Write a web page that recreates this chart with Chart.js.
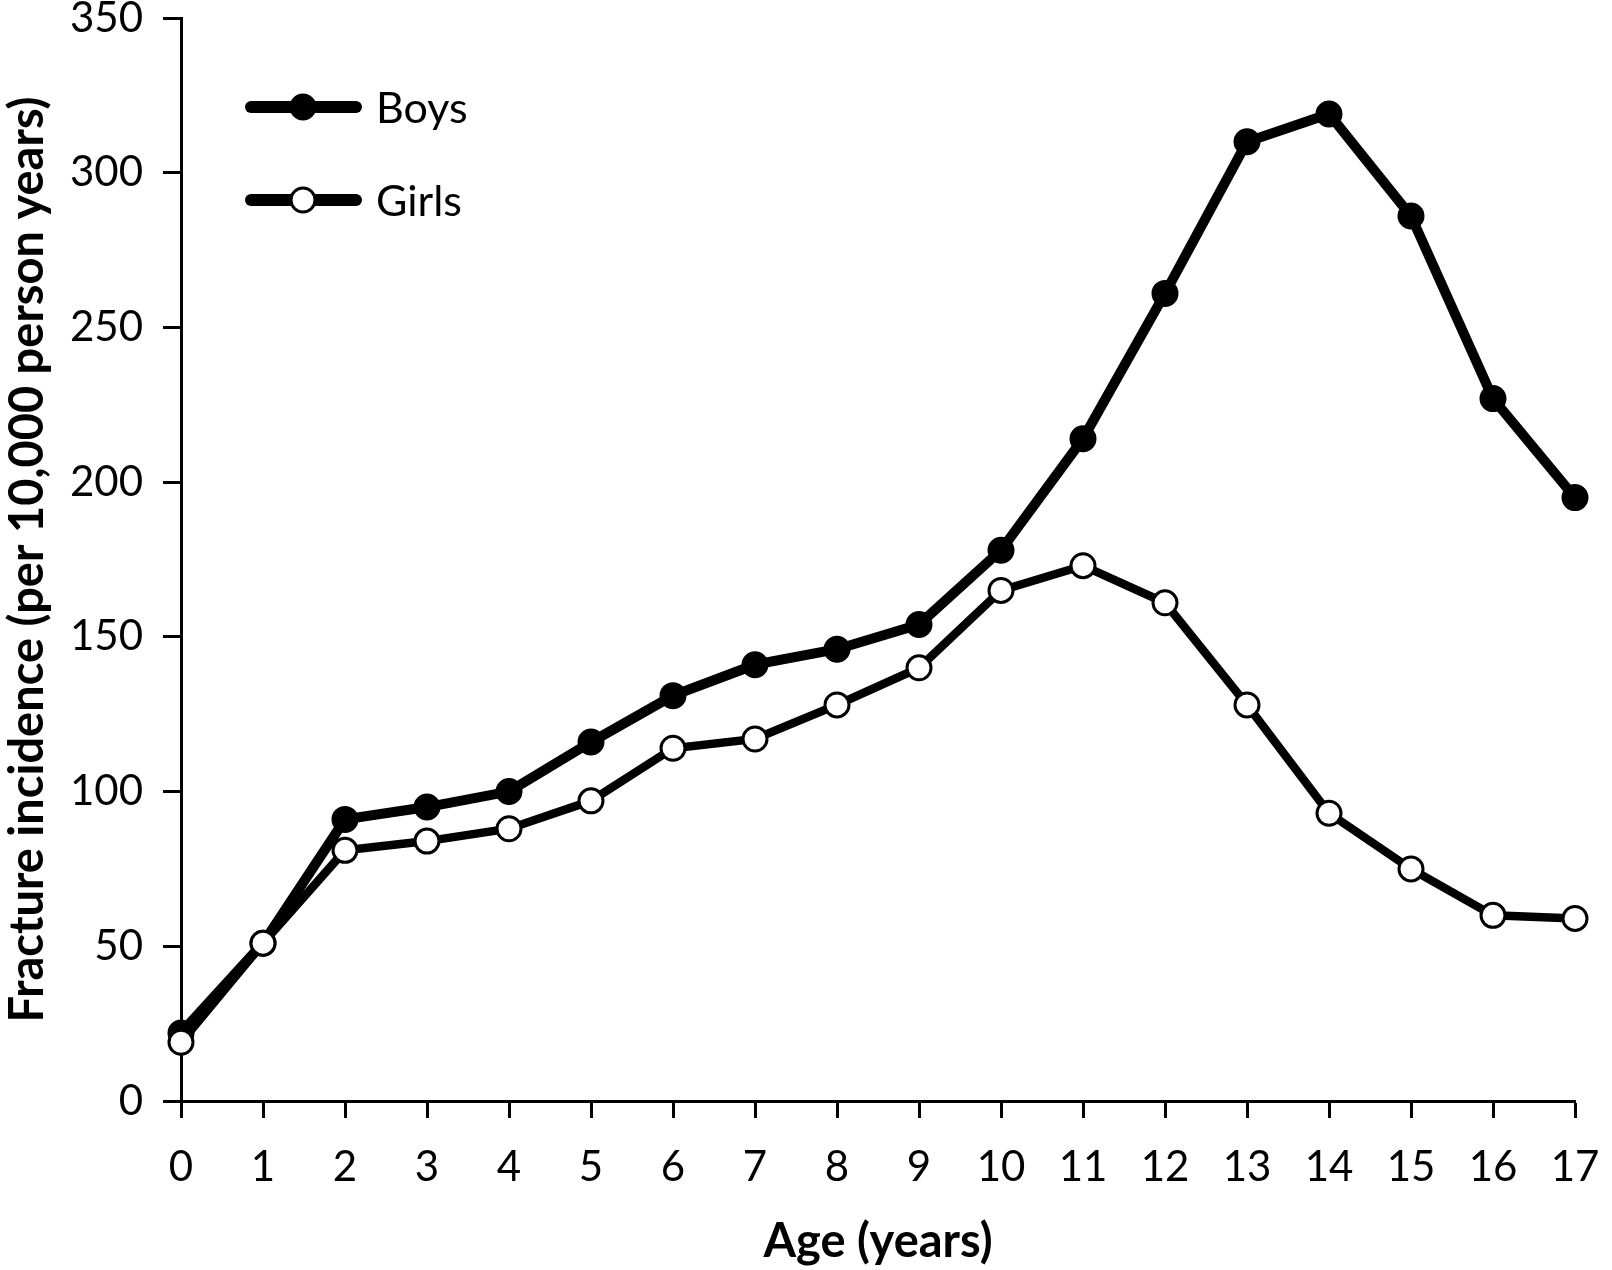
<!DOCTYPE html>
<html>
<head>
<meta charset="utf-8">
<script src="https://cdn.jsdelivr.net/npm/chart.js@4"></script>
<style>
  html, body { margin: 0; padding: 0; background: #fff; }
  #wrap { width: 1612px; height: 1270px; position: relative; }
</style>
</head>
<body>
<div id="wrap"><canvas id="fractureChart"></canvas></div>
<script>
// data
const ages = ["0", "1", "2", "3", "4", "5", "6", "7", "8", "9", "10", "11", "12", "13", "14", "15", "16", "17"];
const boys = [22, 51, 91, 95, 100, 116, 131, 141, 146, 154, 178, 214, 261, 310, 319, 286, 227, 195];
const girls = [19, 51, 81, 84, 88, 97, 114, 117, 128, 140, 165, 173, 161, 128, 93, 75, 60, 59];
const yTicks = [0, 50, 100, 150, 200, 250, 300, 350];

const FONT = "Lato, 'Open Sans', sans-serif";

// legend drawn inside the plot, top-left
const insideLegend = {
  id: "insideLegend",
  afterDraw(chart) {
    const ctx = chart.ctx;
    const rows = [107, 200];
    ctx.save();
    chart.data.datasets.forEach((ds, i) => {
      const y = rows[i];
      ctx.strokeStyle = "#000";
      ctx.lineWidth = 12;
      ctx.lineCap = "round";
      ctx.beginPath();
      ctx.moveTo(251, y);
      ctx.lineTo(356, y);
      ctx.stroke();

      ctx.beginPath();
      ctx.arc(303, y, 12, 0, Math.PI * 2);
      ctx.fillStyle = ds.pointBackgroundColor;
      ctx.fill();
      ctx.lineWidth = 3;
      ctx.stroke();

      ctx.fillStyle = "#000";
      ctx.font = "43px " + FONT;
      ctx.textBaseline = "middle";
      ctx.textAlign = "left";
      ctx.fillText(ds.label, 376, y + 2);
    });
    ctx.restore();
  },
};

new Chart(document.getElementById("fractureChart"), {
  type: "line",
  data: {
    labels: ages,
    datasets: [
      {
        label: "Boys",
        data: boys,
        order: 2,
        borderColor: "#000",
        borderWidth: 10,
        pointRadius: 12,
        pointBorderWidth: 3,
        pointBackgroundColor: "#000",
        pointBorderColor: "#000",
        tension: 0,
      },
      {
        label: "Girls",
        data: girls,
        order: 1,
        borderColor: "#000",
        borderWidth: 8.5,
        pointRadius: 12,
        pointBorderWidth: 3,
        pointBackgroundColor: "#fff",
        pointBorderColor: "#000",
        tension: 0,
      },
    ],
  },
  options: {
    responsive: true,
    maintainAspectRatio: false,
    devicePixelRatio: 1,
    animation: false,
    layout: { autoPadding: false, padding: { top: 18, right: 37, left: 0, bottom: 0 } },
    plugins: {
      legend: { display: false },
      tooltip: { enabled: false },
    },
    scales: {
      x: {
        offset: false,
        grid: { drawOnChartArea: false, drawTicks: true, tickLength: 17, tickWidth: 3, tickColor: "#000" },
        border: { display: true, color: "#000", width: 3 },
        ticks: { color: "#000", padding: 24, font: { family: FONT, size: 42 }, maxRotation: 0, autoSkip: false },
        title: {
          display: true,
          text: "Age (years)",
          color: "#000",
          font: { family: FONT, size: 47, weight: "bold" },
          padding: { top: 0, bottom: 0 },
        },
        afterFit(scale) {
          scale.height = 169;
          scale.paddingLeft = 0;
          scale.paddingRight = 0;
        },
      },
      y: {
        min: 0,
        max: 350,
        afterBuildTicks(scale) { scale.ticks = yTicks.map(v => ({ value: v })); },
        grid: { drawOnChartArea: false, drawTicks: true, tickLength: 18, tickWidth: 3, tickColor: "#000" },
        border: { display: true, color: "#000", width: 3 },
        ticks: { color: "#000", padding: 20, font: { family: FONT, size: 42 } },
        title: {
          display: true,
          text: "Fracture incidence (per 10,000 person years)",
          color: "#000",
          font: { family: FONT, size: 47, weight: "bold" },
          padding: { top: 0, bottom: 0 },
        },
        afterFit(scale) {
          scale.width = 181;
          scale.paddingTop = 0;
          scale.paddingBottom = 0;
        },
      },
    },
  },
  plugins: [insideLegend],
});
</script>
</body>
</html>
